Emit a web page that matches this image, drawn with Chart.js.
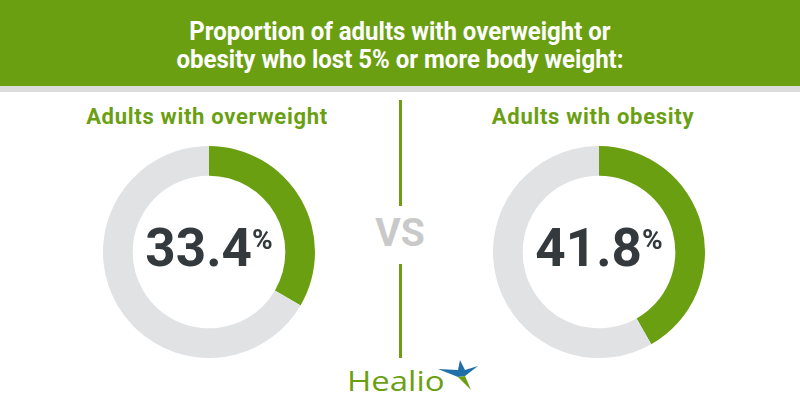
<!DOCTYPE html>
<html>
<head>
<meta charset="utf-8">
<script src="https://cdn.jsdelivr.net/npm/chart.js@4/dist/chart.umd.min.js"></script>
<style>
  html, body { margin: 0; padding: 0; background: #fff; }
  #page { position: relative; width: 800px; height: 420px; overflow: hidden; font-family: Roboto, "Noto Sans", sans-serif; }
  #header { position: absolute; left: 0; top: 0; width: 800px; height: 86px; background: #6b9f12; }
  #stripe { position: absolute; left: 0; top: 86px; width: 800px; height: 6px; background: #dcdcdc; }
  #title { position: absolute; left: 0; width: 800px; top: 18px; text-align: center; color: #fff;
           font-weight: bold; font-size: 25px; line-height: 28px; transform: scaleX(0.96); transform-origin: 400px 0; }
  .sub { position: absolute; top: 104px; width: 300px; text-align: center; color: #6b9f12; font-weight: bold;
         font-size: 22px; line-height: 26px; letter-spacing: 0.7px; }
  .ring { position: absolute; top: 146px; width: 212px; height: 212px; }
  .num { position: absolute; top: 218px; width: 212px; text-align: center; color: #33393c; font-weight: bold; font-size: 53px; line-height: 60px; }
  .num sup { font-size: 28px; vertical-align: top; position: relative; top: 8px; margin-left: 0; line-height: 28px; }
  .vline { position: absolute; left: 399px; width: 3px; background: #6b9f12; }
  #vs { position: absolute; left: 350px; width: 100px; top: 210px; text-align: center; color: #c9c9c9; font-weight: bold; font-size: 39px; line-height: 46px; }
  #logo { position: absolute; left: 347px; top: 364px; color: #6b9f12; font-size: 27px; line-height: 34px; font-weight: 500;
          font-family: "Open Sans", Roboto, sans-serif; transform: scaleX(1.22); transform-origin: 0 0; }
  #star { position: absolute; left: 436px; top: 358px; }
</style>
</head>
<body>
<div id="page">
  <div id="header"></div>
  <div id="stripe"></div>
  <div id="title">Proportion of adults with overweight or<br>obesity who lost 5% or more body weight:</div>
  <div class="vline" style="top:100px;height:106px"></div>
  <div class="vline" style="top:264px;height:94px"></div>
  <div id="vs">VS</div>
  <div id="logo">Healio</div>
  <svg id="star" width="44" height="34" viewBox="0 0 44 34">
    <polygon points="24,2 29,12 42,8 29,18 22,19 2,11 22,12" fill="#1f6fa8"/>
    <polygon points="29,18 35,32 22,19" fill="#6b9f12"/>
  </svg>
</div>
<script>
// groups and share (%) who lost >=5% body weight
const groups = ['Adults with overweight', 'Adults with obesity'];
const lostPct = [33.4, 41.8];
const ringLeft = [103, 493];
const subCenter = [207, 593];

const green = '#6b9f12';
const grey = '#e1e2e4';

const page = document.getElementById('page');

groups.forEach((g, i) => {
  const sub = document.createElement('div');
  sub.className = 'sub';
  sub.style.left = (subCenter[i] - 150) + 'px';
  sub.textContent = g;
  page.appendChild(sub);

  const canvas = document.createElement('canvas');
  canvas.className = 'ring';
  canvas.width = 212;
  canvas.height = 212;
  canvas.style.left = ringLeft[i] + 'px';
  page.appendChild(canvas);

  const num = document.createElement('div');
  num.className = 'num';
  num.style.left = ringLeft[i] + 'px';
  num.innerHTML = lostPct[i].toFixed(1) + '<sup>%</sup>';
  page.appendChild(num);

  new Chart(canvas, {
    type: 'doughnut',
    data: {
      labels: ['Lost 5% or more', 'Other'],
      datasets: [{
        data: [lostPct[i], 100 - lostPct[i]],
        backgroundColor: [green, grey],
        borderWidth: 0
      }]
    },
    options: {
      responsive: false,
      animation: false,
      cutout: '72%',
      layout: { padding: 0 },
      plugins: { legend: { display: false }, tooltip: { enabled: false } }
    }
  });
});
</script>
</body>
</html>
